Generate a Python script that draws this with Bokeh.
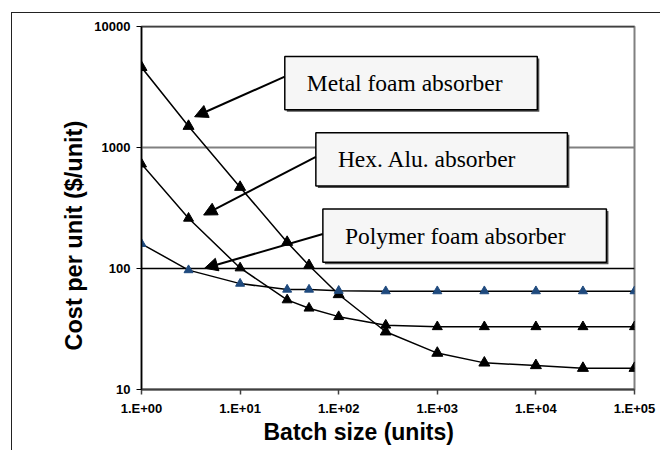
import math
from bokeh.plotting import figure
from bokeh.models import (FixedTicker, Span, BoxAnnotation, Label, Arrow, NormalHead, Title)
from bokeh.embed import file_html
from bokeh.resources import INLINE

# ---- data ----
batch = [1, 3, 10, 30, 50, 100, 300, 1000, 3000, 10000, 30000, 100000]
metal_foam = [4600, 1500, 470, 165, 106, 61, 30, 20, 16.6, 15.8, 15, 15]
hex_alu = [730, 260, 101, 55, 47, 40, 34, 33, 33, 33, 33, 33]
polymer_foam = [160, 97, 75, 67, 67, 65.5, 65, 65, 65, 65, 65, 65]

x_ticks = [1, 10, 100, 1000, 10000, 100000]
x_tick_labels = ["1.E+00", "1.E+01", "1.E+02", "1.E+03", "1.E+04", "1.E+05"]
y_ticks = [10, 100, 1000, 10000]
y_tick_labels = ["10", "100", "1000", "10000"]

x_title = "Batch size (units)"
y_title = "Cost per unit ($/unit)"
callouts = ["Metal foam absorber", "Hex. Alu. absorber", "Polymer foam absorber"]

# ---- layout (page pixels) ----
OX, OY = 11, 12  # outer frame offset
FL, FR, FT, FB = 140, 632, 25, 387  # plot frame in page px
XMIN, XMAX, YMIN, YMAX = 1, 1e5, 10, 1e4


def px2x(px):
    return 10 ** (math.log10(XMIN) + (px - FL) / (FR - FL) * (math.log10(XMAX) - math.log10(XMIN)))


def py2y(py):
    return 10 ** (math.log10(YMAX) - (py - FT) / (FB - FT) * (math.log10(YMAX) - math.log10(YMIN)))


W, H = 660 - OX, 450 - OY
p = figure(width=W, height=H, x_axis_type="log", y_axis_type="log",
           x_range=(XMIN, XMAX), y_range=(YMIN, YMAX),
           output_backend="svg", toolbar_location=None,
           min_border_left=FL - OX, min_border_right=W - (FR - OX),
           min_border_top=FT - OY, min_border_bottom=H - (FB - OY))
p.styles = {"margin-left": f"{OX}px", "margin-top": f"{OY}px",
            "border-left": "1px solid #222", "border-top": "1px solid #222",
            "box-sizing": "content-box"}

p.background_fill_color = "white"
p.border_fill_color = "white"
p.outline_line_color = "#808080"
p.outline_line_width = 2

# grid
p.xgrid.grid_line_color = None
p.ygrid.grid_line_color = None
p.add_layout(Span(location=1000, dimension="width", line_color="#808080", line_width=2, level="underlay"))
p.add_layout(Span(location=100, dimension="width", line_color="black", line_width=1.5, level="underlay"))
p.add_layout(Span(location=10000, dimension="width", line_color="black", line_width=1.5, level="underlay"))

# axes
p.xaxis.ticker = FixedTicker(ticks=x_ticks)
p.yaxis.ticker = FixedTicker(ticks=y_ticks)
p.xaxis.major_label_overrides = dict(zip(x_ticks, x_tick_labels))
p.yaxis.major_label_overrides = dict(zip(y_ticks, y_tick_labels))
for ax in (p.xaxis, p.yaxis):
    ax.major_tick_in = 0
    ax.major_tick_out = 5
    ax.minor_tick_in = 0
    ax.minor_tick_out = 0
    ax.major_label_text_font = "Liberation Sans"
    ax.major_label_text_font_style = "bold"
    ax.major_label_text_font_size = "13px"
    ax.major_label_text_color = "black"
p.yaxis.axis_line_color = "black"
p.yaxis.axis_line_width = 1.5
p.yaxis.major_tick_line_color = "black"
p.yaxis.major_label_standoff = 6
p.xaxis.axis_line_color = "#404040"
p.xaxis.axis_line_width = 2
p.xaxis.major_tick_line_color = "#404040"
p.xaxis.major_tick_line_width = 1.5
p.xaxis.major_label_standoff = 6

# axis titles (placed like the original, off-centre)
p.add_layout(Title(text=x_title, align="left", offset=267 - FL - 5, standoff=0,
                   vertical_align="top",
                   text_font="Liberation Sans", text_font_style="bold", text_font_size="23px",
                   text_color="black"), "below")
p.add_layout(Title(text=y_title, align="left", offset=387 - 345 - 3, standoff=9,
                   text_font="Liberation Sans", text_font_style="bold", text_font_size="23.5px",
                   text_color="black"), "left")

# series
for ys, col, sz in ((metal_foam, "black", 11), (hex_alu, "black", 10), (polymer_foam, "#1f4a7e", 9)):
    p.line(batch, ys, line_color="black", line_width=1.5)
    p.scatter(batch, ys, marker="triangle", size=sz, fill_color=col, line_color=col)

# callout boxes + arrows (page px positions)
boxes = [(283, 55, 535, 108), (314, 131, 565, 184), (321, 207, 604, 260)]
arrows = [((283, 75), (193, 115)), ((314, 155), (202, 213)), ((321, 232), (203, 266))]
for (l, t, r, b), txt in zip(boxes, callouts):
    p.add_layout(BoxAnnotation(left=px2x(l + 2), right=px2x(r + 2), top=py2y(t + 2), bottom=py2y(b + 2),
                               fill_color="#505050", fill_alpha=1, line_color=None))
    p.add_layout(BoxAnnotation(left=px2x(l), right=px2x(r), top=py2y(t), bottom=py2y(b),
                               fill_color="#f6f6f6", fill_alpha=1, line_color="black",
                               line_alpha=1, line_width=1.5))
    p.add_layout(Label(x=px2x(l + 22), y=py2y((t + b) / 2), text=txt,
                       text_font="Liberation Serif", text_font_size="23.5px",
                       text_baseline="middle", text_align="left", text_color="black"))
for (s, e) in arrows:
    p.add_layout(Arrow(x_start=px2x(s[0]), y_start=py2y(s[1]), x_end=px2x(e[0]), y_end=py2y(e[1]),
                       line_color="black", line_width=2,
                       end=NormalHead(size=13, fill_color="black", line_color="black")))

open("out.html", "w").write(file_html(p, INLINE))
